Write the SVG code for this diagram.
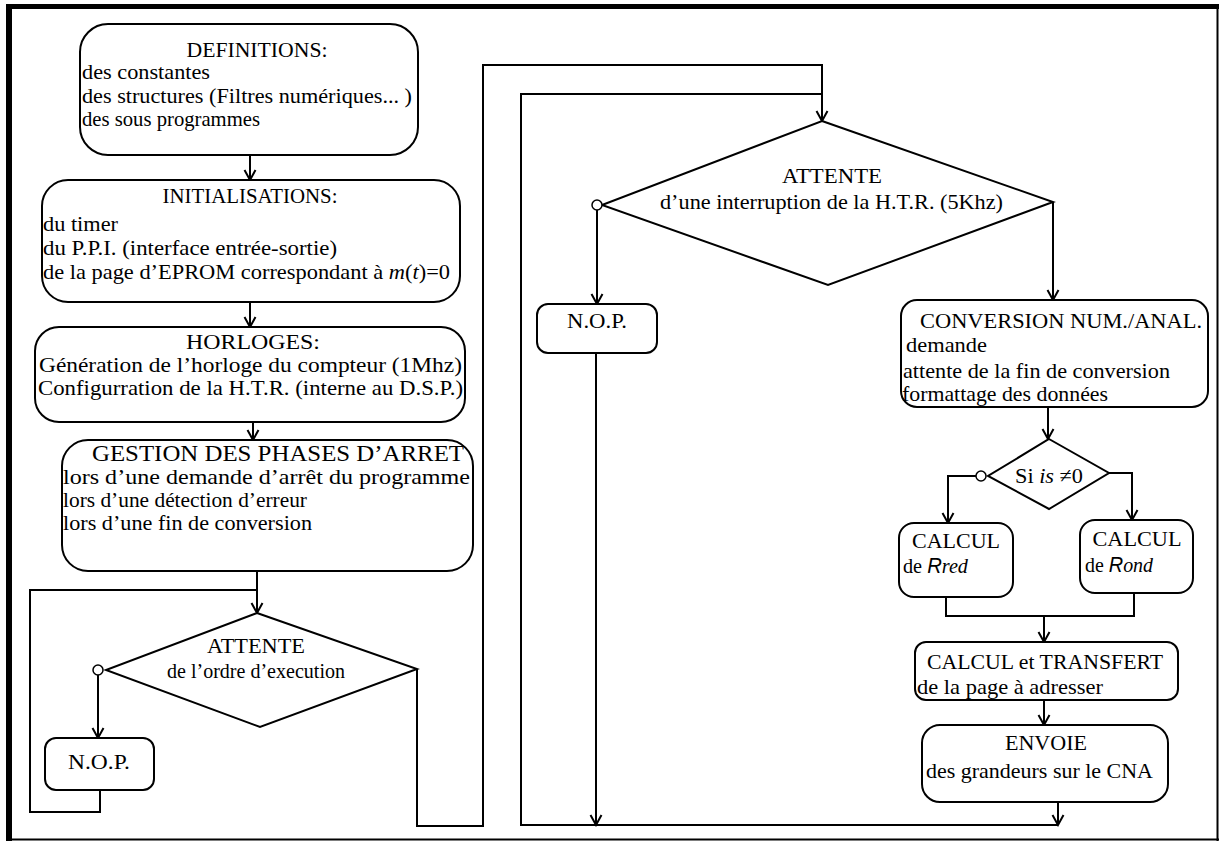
<svg xmlns="http://www.w3.org/2000/svg" width="1219" height="841" viewBox="0 0 1219 841">
<defs>
<style>
.box{fill:#fff;stroke:#000;stroke-width:2}
.ln{fill:none;stroke:#000;stroke-width:2}
.ar{fill:none;stroke:#000;stroke-width:2;marker-end:url(#ah)}
.dot{fill:#fff;stroke:#000;stroke-width:1.5}
text{font-family:"Liberation Serif","Times New Roman",serif;font-size:22px;fill:#000}
.c{text-anchor:middle}
.i{font-style:italic}
.si{font-family:"Liberation Sans",Arial,sans-serif;font-style:italic}
</style>
<marker id="ah" markerUnits="userSpaceOnUse" markerWidth="14" markerHeight="14" viewBox="0 0 14 14" refX="12" refY="7" orient="auto">
<path d="M2,1.5 L12,7 L2,12.5" fill="none" stroke="#000" stroke-width="2"/>
</marker>
<clipPath id="clipT"><rect x="915" y="642" width="263" height="58"/></clipPath>
</defs>
<rect width="1219" height="841" fill="#fff"/>
<g id="frame">
<line x1="6" y1="6.5" x2="1219" y2="6.5" stroke="#000" stroke-width="5"/>
<line x1="9" y1="4" x2="9" y2="841" stroke="#000" stroke-width="6"/>
<line x1="1217.5" y1="4" x2="1217.5" y2="841" stroke="#000" stroke-width="2"/>
<line x1="6" y1="839.5" x2="1219" y2="839.5" stroke="#000" stroke-width="2"/>
</g>
<g id="connectors">
<path class="ar" d="M250,155 V180"/>
<path class="ar" d="M250,302 V327"/>
<path class="ar" d="M253,422 V440"/>
<path class="ar" d="M257,571 V613"/>
<path class="ln" d="M100,790 V812 H30 V590 H257"/>
<path class="ar" d="M98,675 V738"/>
<path class="ar" d="M417,669 V826 H483 V65 H822 V121"/>
<path class="ln" d="M1058,825 H521 V94 H822"/>
<path class="ar" d="M597,210 V304"/>
<path class="ar" d="M596,353 V825"/>
<path class="ar" d="M1058,802 V825"/>
<path class="ar" d="M1053,202 V300"/>
<path class="ar" d="M1048,407 V439"/>
<path class="ar" d="M976,476 H948 V523"/>
<path class="ar" d="M1109,473 H1132 V520"/>
<path class="ln" d="M946,597 V616 H1134 V593"/>
<path class="ar" d="M1044,616 V642"/>
<path class="ar" d="M1044,700 V725"/>
</g>
<g id="definitions">
<rect class="box" x="80" y="24" width="338" height="131" rx="28"/>
<text class="c" x="257" y="57" textLength="141" lengthAdjust="spacingAndGlyphs">DEFINITIONS:</text>
<text x="82" y="79" textLength="128" lengthAdjust="spacingAndGlyphs">des constantes</text>
<text x="82" y="103" textLength="330" lengthAdjust="spacingAndGlyphs">des structures (Filtres numériques... )</text>
<text x="82" y="126" textLength="178" lengthAdjust="spacingAndGlyphs">des sous programmes</text>
</g>
<g id="initialisations">
<rect class="box" x="42" y="180" width="418" height="122" rx="26"/>
<text class="c" x="250" y="203" textLength="175" lengthAdjust="spacingAndGlyphs">INITIALISATIONS:</text>
<text x="43" y="231" textLength="75" lengthAdjust="spacingAndGlyphs">du timer</text>
<text x="43" y="255" textLength="294" lengthAdjust="spacingAndGlyphs">du P.P.I. (interface entrée-sortie)</text>
<text x="43" y="279" textLength="407" lengthAdjust="spacingAndGlyphs">de la page d’EPROM correspondant à <tspan class="i">m</tspan>(<tspan class="i">t</tspan>)=0</text>
</g>
<g id="horloges">
<rect class="box" x="35" y="327" width="430" height="95" rx="24"/>
<text class="c" x="253" y="349" textLength="134" lengthAdjust="spacingAndGlyphs">HORLOGES:</text>
<text x="39" y="372" textLength="423" lengthAdjust="spacingAndGlyphs">Génération de l’horloge du compteur (1Mhz)</text>
<text x="38" y="395" textLength="425" lengthAdjust="spacingAndGlyphs">Configurration de la H.T.R. (interne au D.S.P.)</text>
</g>
<g id="gestion">
<rect class="box" x="62" y="440" width="411" height="131" rx="26"/>
<text class="c" x="278" y="461" textLength="372" lengthAdjust="spacingAndGlyphs" style="font-size:23px">GESTION DES PHASES D’ARRET</text>
<text x="63" y="484" textLength="407" lengthAdjust="spacingAndGlyphs">lors d’une demande d’arrêt du programme</text>
<text x="63" y="507" textLength="244" lengthAdjust="spacingAndGlyphs">lors d’une détection d’erreur</text>
<text x="63" y="530" textLength="249" lengthAdjust="spacingAndGlyphs">lors d’une fin de conversion</text>
</g>
<g id="attente1">
<polygon class="box" points="257,613 417,669 260,727 106,670"/>
<circle class="dot" cx="98" cy="670" r="5"/>
<text class="c" x="256" y="653" textLength="98" lengthAdjust="spacingAndGlyphs">ATTENTE</text>
<text class="c" x="256" y="678" textLength="178" lengthAdjust="spacingAndGlyphs">de l’ordre d’execution</text>
</g>
<g id="nop1">
<rect class="box" x="45" y="738" width="109" height="52" rx="11"/>
<text class="c" x="99" y="769" textLength="62" lengthAdjust="spacingAndGlyphs">N.O.P.</text>
</g>
<g id="attente2">
<polygon class="box" points="822,121 1053,202 828,285 602,205"/>
<circle class="dot" cx="597" cy="205" r="5"/>
<text class="c" x="832" y="183" textLength="100" lengthAdjust="spacingAndGlyphs">ATTENTE</text>
<text class="c" x="831.5" y="209" textLength="343" lengthAdjust="spacingAndGlyphs">d’une interruption de la H.T.R. (5Khz)</text>
</g>
<g id="nop2">
<rect class="box" x="537" y="304" width="120" height="49" rx="11"/>
<text class="c" x="597" y="328" textLength="60" lengthAdjust="spacingAndGlyphs">N.O.P.</text>
</g>
<g id="conversion">
<rect class="box" x="901" y="300" width="307" height="107" rx="16"/>
<text class="c" x="1061" y="328" textLength="282" lengthAdjust="spacingAndGlyphs">CONVERSION NUM./ANAL.</text>
<text x="906" y="352" textLength="81" lengthAdjust="spacingAndGlyphs">demande</text>
<text x="903" y="378" textLength="267" lengthAdjust="spacingAndGlyphs">attente de la fin de conversion</text>
<text x="902" y="401" textLength="206" lengthAdjust="spacingAndGlyphs">formattage des données</text>
</g>
<g id="test-is">
<polygon class="box" points="1049,439 1109,473 1049,509 988,476"/>
<circle class="dot" cx="981" cy="476" r="5"/>
<text class="c" x="1049" y="483" textLength="68" lengthAdjust="spacingAndGlyphs">Si <tspan class="i">is</tspan> ≠0</text>
</g>
<g id="calcul-red">
<rect class="box" x="899" y="523" width="114" height="74" rx="15"/>
<text class="c" x="956" y="548" textLength="88" lengthAdjust="spacingAndGlyphs">CALCUL</text>
<text x="903" y="573" textLength="65" lengthAdjust="spacingAndGlyphs">de <tspan class="si">R</tspan><tspan class="i">red</tspan></text>
</g>
<g id="calcul-ond">
<rect class="box" x="1080" y="520" width="113" height="73" rx="15"/>
<text class="c" x="1137" y="546" textLength="89" lengthAdjust="spacingAndGlyphs">CALCUL</text>
<text x="1085" y="572" textLength="68" lengthAdjust="spacingAndGlyphs">de <tspan class="si">R</tspan><tspan class="i">ond</tspan></text>
</g>
<g id="calcul-transfert">
<rect class="box" x="915" y="642" width="263" height="58" rx="11"/>
<text class="c" x="1045" y="669" textLength="236" lengthAdjust="spacingAndGlyphs">CALCUL et TRANSFERT</text>
<text x="917" y="694" textLength="186" lengthAdjust="spacingAndGlyphs" clip-path="url(#clipT)">de la page à adresser</text>
</g>
<g id="envoie">
<rect class="box" x="922" y="725" width="246" height="77" rx="18"/>
<text class="c" x="1046" y="750" textLength="82" lengthAdjust="spacingAndGlyphs">ENVOIE</text>
<text x="926" y="778" textLength="227" lengthAdjust="spacingAndGlyphs">des grandeurs sur le CNA</text>
</g>
</svg>
